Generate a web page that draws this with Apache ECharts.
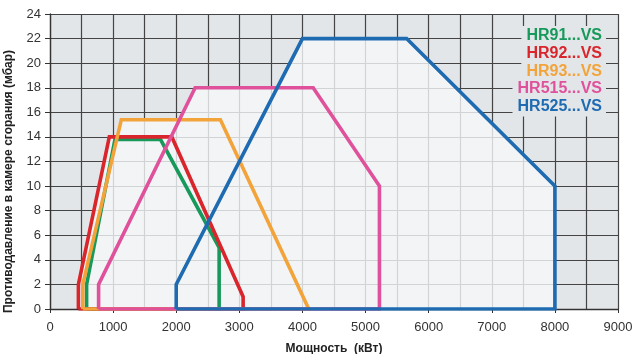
<!DOCTYPE html>
<html>
<head>
<meta charset="utf-8">
<script src="https://cdn.jsdelivr.net/npm/echarts@6/dist/echarts.min.js"></script>
<style>
  html, body { margin: 0; padding: 0; background: #fff; }
  #chart { width: 640px; height: 354px; }
</style>
</head>
<body>
<div id="chart"></div>
<script>
// рабочие поля горелок: мощность (кВт) / противодавление (мбар)
const names = ['HR91...VS', 'HR92...VS', 'HR93...VS', 'HR515...VS', 'HR525...VS']
const colors = ['#17995b', '#d9252c', '#f2a33a', '#e0519b', '#1e6bb2']

const hr91 = [[580, 0], [580, 2], [1030, 13.8], [1750, 13.8], [2680, 5], [2680, 0], [580, 0]]
const hr92 = [[450, 0], [450, 2], [940, 14], [1930, 14], [3060, 1], [3060, 0], [450, 0]]
const hr93 = [[520, 0], [520, 2], [1130, 15.4], [2700, 15.4], [4100, 0], [520, 0]]
const hr515 = [[770, 0], [770, 2], [2300, 18], [4170, 18], [5220, 10], [5220, 0], [770, 0]]
const hr525 = [[2000, 0], [2000, 2], [4000, 22], [5650, 22], [8000, 10], [8000, 0], [2000, 0]]

const fields = [hr91, hr92, hr93, hr515, hr525]

const xTicks = { min: 0, max: 9000, step: 1000 }
const yTicks = { min: 0, max: 24, step: 2 }

const font = 'Liberation Sans'
const dark = '#444'

const chart = echarts.init(document.getElementById('chart'))

// светлая заливка объединения всех полей (один путь -> без наложения)
const unionSeries = {
  type: 'custom',
  data: [[0, 0]],
  silent: true,
  z: 1,
  renderItem (params, api) {
    let d = ''
    fields.forEach(pts => {
      pts.forEach((p, i) => {
        const c = api.coord(p)
        d += (i === 0 ? 'M' : 'L') + c[0].toFixed(2) + ' ' + c[1].toFixed(2) + ' '
      })
      d += 'Z '
    })
    return {
      type: 'path',
      shape: { pathData: d },
      style: { fill: 'rgba(246,247,249,0.8)', stroke: null }
    }
  }
}

const lineSeries = fields.map((pts, i) => ({
  type: 'line',
  name: names[i],
  data: pts,
  symbol: 'none',
  silent: true,
  z: 3 + i,
  lineStyle: { color: colors[i], width: 3.6, join: 'miter' }
}))

const legendTexts = names.map((n, i) => ({
  type: 'text',
  right: 34,
  top: 26 + i * 17.6,
  z: 20,
  style: {
    text: n,
    fill: colors[i],
    font: 'bold 16px "' + font + '"',
    backgroundColor: '#e3e6e9',
    padding: [2, 4, 2, 5]
  }
}))

chart.setOption({
  animation: false,
  grid: {
    left: 50, right: 22, top: 14, bottom: 45,
    outerBoundsMode: 'none',
    containLabel: false,
    show: true, backgroundColor: '#e3e6e9', borderWidth: 0
  },
  xAxis: {
    type: 'value',
    min: xTicks.min, max: xTicks.max, interval: xTicks.step,
    name: 'Мощность  (кВт)',
    nameLocation: 'middle',
    nameGap: 34,
    nameTextStyle: { fontFamily: font, fontWeight: 'bold', fontSize: 12, color: '#222' },
    axisLine: { lineStyle: { color: '#333', width: 1.3 } },
    axisTick: { show: true, length: 4, lineStyle: { color: '#333' } },
    axisLabel: { fontFamily: font, fontSize: 13, color: '#333', margin: 12, formatter: v => String(v) },
    splitLine: { show: true, lineStyle: { color: dark, width: 1.2 } },
    minorTick: { show: false, splitNumber: 2 },
    minorSplitLine: { show: true, lineStyle: { color: dark, width: 1.2 } }
  },
  yAxis: {
    type: 'value',
    min: yTicks.min, max: yTicks.max, interval: yTicks.step,
    name: 'Противодавление в камере сгорания (мбар)',
    nameLocation: 'middle',
    nameRotate: 90,
    nameGap: 35,
    nameTextStyle: { fontFamily: font, fontWeight: 'bold', fontSize: 12, color: '#222', padding: [0, 40, 0, 0] },
    axisLine: { show: true, lineStyle: { color: '#333', width: 1.3 } },
    axisTick: { show: true, length: 5, lineStyle: { color: '#333' } },
    axisLabel: { fontFamily: font, fontSize: 13, color: '#333', margin: 9 },
    splitLine: { show: true, lineStyle: { color: dark, width: 1.2 } }
  },
  graphic: legendTexts,
  series: [unionSeries].concat(lineSeries)
})
</script>
</body>
</html>
